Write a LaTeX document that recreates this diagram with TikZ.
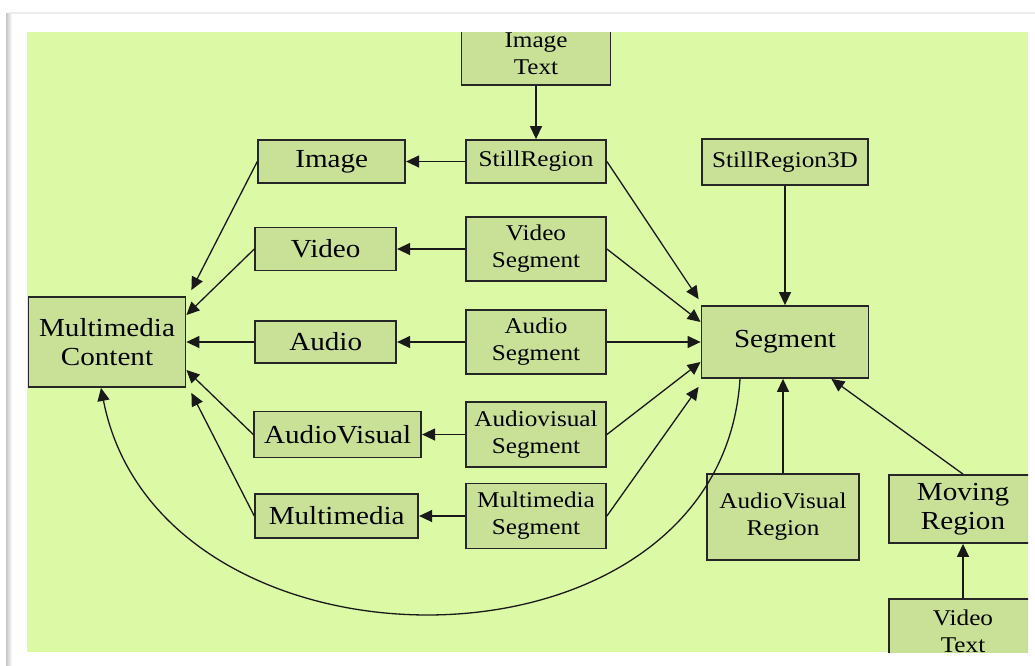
\documentclass[tikz,border=0pt]{standalone}
\usepackage{fontspec}
\setmainfont[FakeStretch=1.12]{Liberation Serif}
\usetikzlibrary{positioning, arrows.meta, calc}
\definecolor{bgg}{RGB}{220,249,165}
\definecolor{boxg}{RGB}{201,225,150}

\begin{document}
\begin{tikzpicture}
[->/.style={line width=1.3pt, draw=black!90, arrows={-Triangle[length=13pt,width=12pt]}},
   bigG/.style={shape=rectangle, draw=black!85, line width=1.8pt, fill=boxg, inner sep=0pt,
     align=center, font=\fontsize{26}{29}\selectfont},
   smallG/.style={bigG, font=\fontsize{22.5}{27}\selectfont},
   x=1pt, y=-1pt]
\useasboundingbox (0,0) rectangle (1035,665);
\fill[white] (0,0) rectangle (1035,665);
\fill[left color=gray!45, right color=white] (6,13) rectangle (12,665);
\draw[gray!15, line width=1.5pt] (9,13) -- (1035,13);
\fill[bgg] (27,32) rectangle (1028,652);
\begin{scope}
\clip (27,32) rectangle (1028,652);
\node[smallG, minimum width=140pt, minimum height=43pt] (StR) at (536,161.5) {StillRegion};
\node[smallG, minimum width=149pt, minimum height=62pt] (IT) [above=53pt of StR] {Image\\Text};
\node[bigG, minimum width=147pt, minimum height=43pt] (Img) [left=59pt of StR] {Image};
\node[smallG, minimum width=166pt, minimum height=46pt] (SR3D) at (785,162) {StillRegion3D};
\node[smallG, minimum width=140pt, minimum height=64pt] (VSeg) at (536,249) {Video\\Segment};
\node[bigG, minimum width=141pt, minimum height=43pt] (Vid) [left=68pt of VSeg] {Video};
\node[smallG, minimum width=140pt, minimum height=64pt] (ASeg) at (536,342) {Audio\\Segment};
\node[bigG, minimum width=141pt, minimum height=42pt] (Aud) [left=68pt of ASeg] {Audio};
\node[smallG, minimum width=140pt, minimum height=65pt] (AVSeg) at (536,434.5) {Audiovisual\\Segment};
\node[bigG, minimum width=167pt, minimum height=46pt] (AV) [left=43pt of AVSeg] {AudioVisual};
\node[smallG, minimum width=140pt, minimum height=65pt] (MMSeg) at (536,516) {Multimedia\\Segment};
\node[bigG, minimum width=163pt, minimum height=44pt] (MM) [left=46pt of MMSeg] {Multimedia};
\node[bigG, minimum width=157pt, minimum height=90pt] (MC) at (107,342) {Multimedia\\Content};
\node[bigG, minimum width=167pt, minimum height=72pt] (Seg) at (785,342) {Segment};
\node[smallG, minimum width=152pt, minimum height=86pt] (AVR) at (783,517) {AudioVisual\\Region};
\node[bigG, minimum width=148pt, minimum height=68pt] (MovR) at (963,509) {Moving\\Region};
\node[smallG, minimum width=148pt, minimum height=64pt] (VT) [below=54pt of MovR] {Video\\Text};
\draw [->] (IT) -- (StR);
\draw [->] (StR) -- (Img);
\draw [->] (VSeg) -- (Vid);
\draw [->] (ASeg) -- (Aud);
\draw [->] (AVSeg) -- (AV);
\draw [->] (MMSeg) -- (MM);
\draw [->] (Img.west) -- ([shift={(5pt,6pt)}]MC.north east);
\draw [->] (Vid.west) -- ([yshift=27pt]MC.east);
\draw [->] (Aud) -- (MC);
\draw [->] (AV.west) -- ([yshift=-28pt]MC.east);
\draw [->] (MM.west) -- ([shift={(5pt,-5pt)}]MC.south east);
\draw [->] (StR.east) -- ([shift={(-2pt,6pt)}]Seg.north west);
\draw [->] (VSeg.east) -- ([yshift=20pt]Seg.west);
\draw [->] (ASeg) -- (Seg);
\draw [->] (AVSeg.east) -- ([yshift=-20pt]Seg.west);
\draw [->] (MMSeg.east) -- ([shift={(-2pt,-8pt)}]Seg.south west);
\draw [->] (SR3D) -- (Seg);
\draw [->] (AVR.north) -- (AVR.north |- Seg.south);
\draw [->] (MovR.north) -- ([xshift=-38pt]Seg.south east);
\draw [->] (VT) -- (MovR);
\draw [->] ([xshift=-45pt]Seg.south) .. controls (720,690) and (160,690) .. ([xshift=-6pt]MC.south);
\end{scope}
\end{tikzpicture}
\end{document}
